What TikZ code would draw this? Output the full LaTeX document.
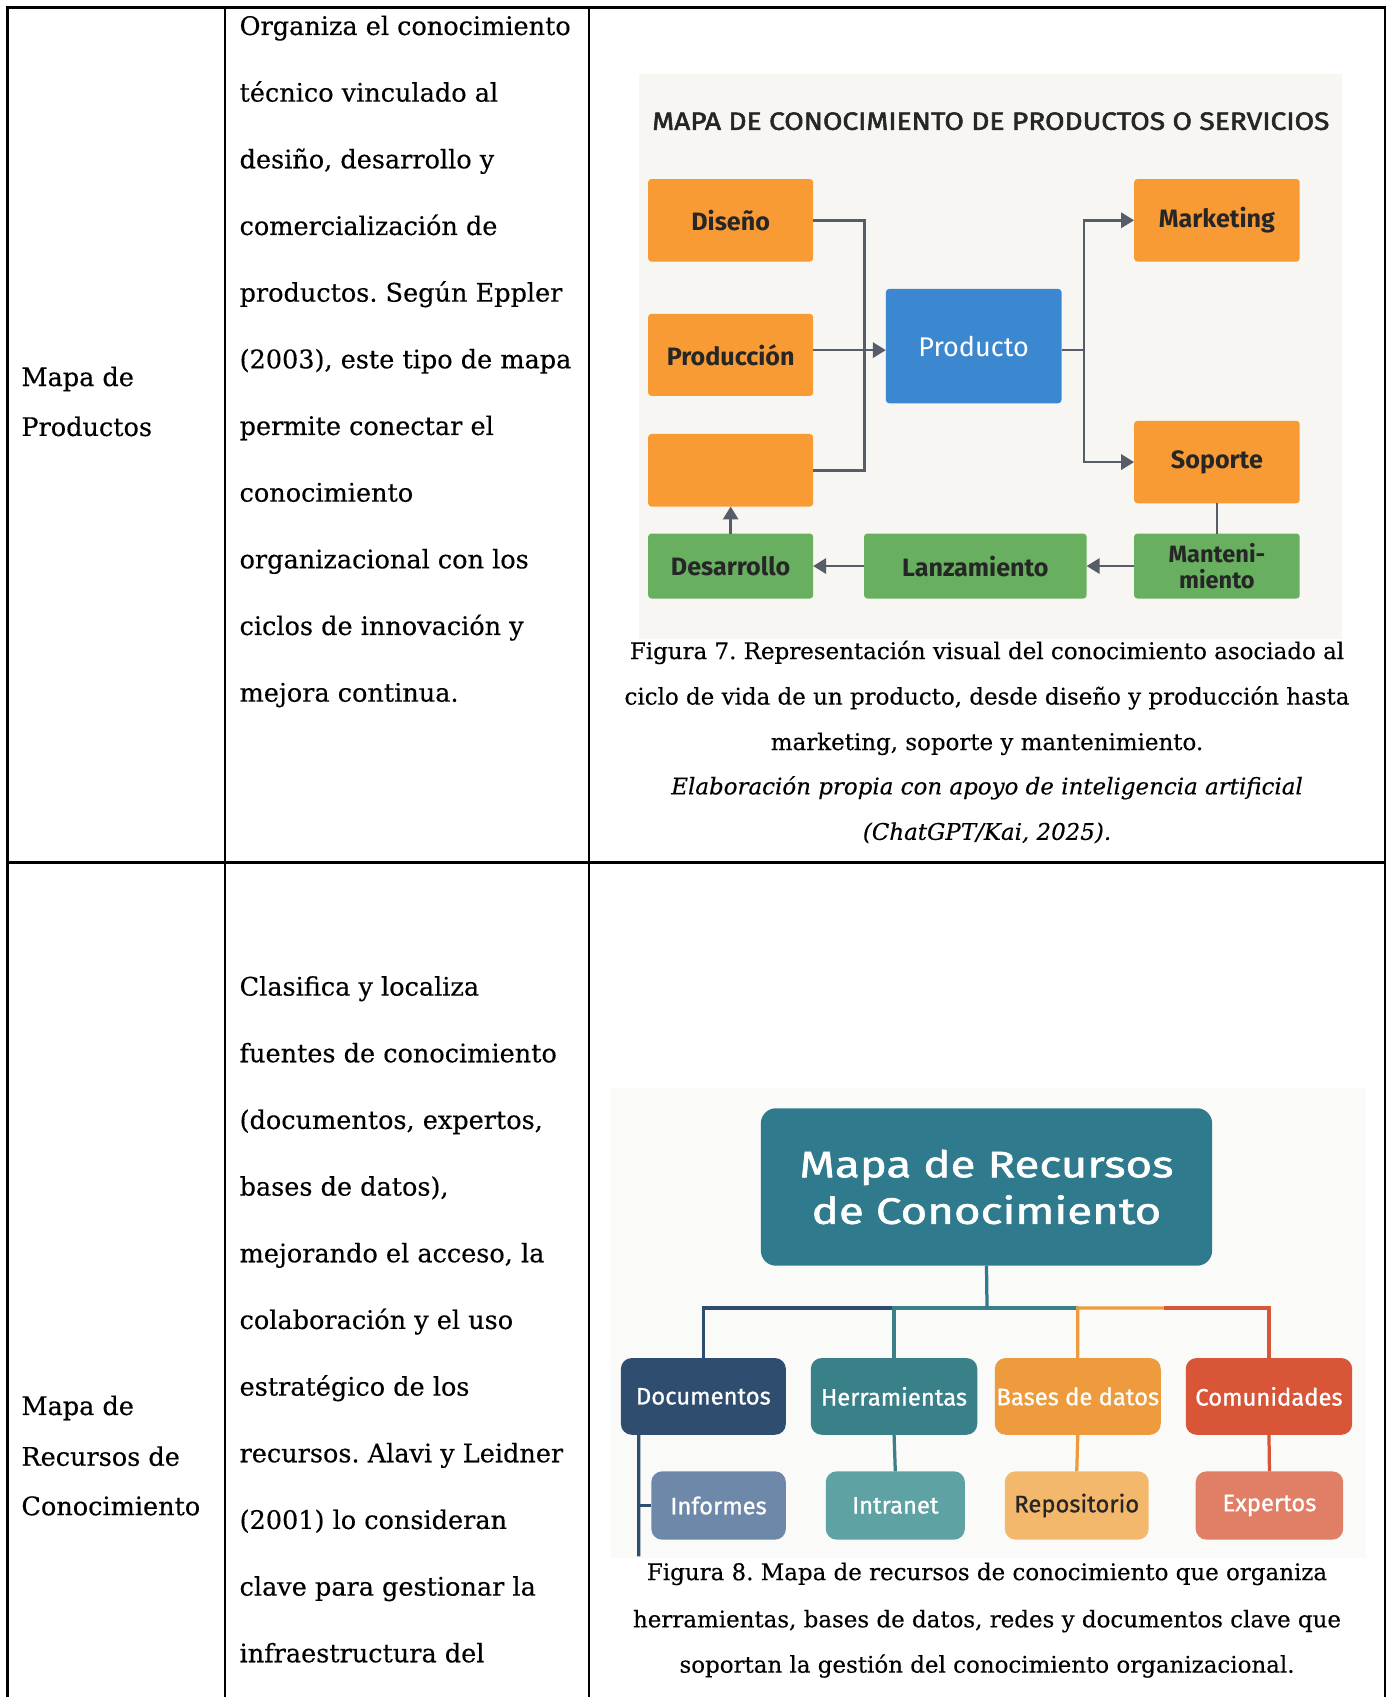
\documentclass[tikz,border=0pt]{standalone}
\usepackage{fontspec}
\setmainfont{DejaVu Serif}[FakeBold=0.35]
\newfontfamily\lblfont{Fira Sans}
\newfontfamily\midfont{Fira Sans}[FakeBold=0.9]
\newfontfamily\widefont{Fira Sans}[FakeStretch=1.24, FakeBold=1.6]
\newfontfamily\headfont{Fira Sans}[FakeStretch=1.12, FakeBold=2.2]
\usetikzlibrary{arrows.meta,calc}
\frenchspacing

\definecolor{panelA}{HTML}{F8F6F2}
\definecolor{panelB}{HTML}{FAFAF8}
\definecolor{orng}{HTML}{F89B35}
\definecolor{blu}{HTML}{3C88D0}
\definecolor{grn}{HTML}{68AF60}
\definecolor{ink}{HTML}{262626}
\definecolor{wire}{HTML}{575C69}
\definecolor{tealT}{HTML}{2F7A8C}
\definecolor{navyD}{HTML}{2E4D6F}
\definecolor{tealH}{HTML}{3A8088}
\definecolor{orB}{HTML}{EE9B3E}
\definecolor{redC}{HTML}{D85537}
\definecolor{slateI}{HTML}{6D88A8}
\definecolor{tealI}{HTML}{5EA2A3}
\definecolor{orR}{HTML}{F3B86C}
\definecolor{salE}{HTML}{E07F65}

% box from corner (x1,y1) to (x2,y2): name, x1, y1, x2, y2, style, text
\newcommand\mkbox[7]{%
  \pgfmathsetmacro\bxc{(#2+#4)/2}%
  \pgfmathsetmacro\byc{(#3+#5)/2}%
  \pgfmathsetmacro\bxw{(#4-#2)/2}%
  \pgfmathsetmacro\byh{(#5-#3)/2}%
  \node[#6, minimum width=\bxw pt, minimum height=\byh pt] (#1) at (\bxc,\byc) {#7};}

\tikzset{
  cell/.style={font=\fontsize{11.8}{14}\selectfont, anchor=base west, inner sep=0pt},
  capt/.style={font=\fontsize{10.6}{13}\selectfont, anchor=base, inner sep=0pt},
  pbox/.style={inner sep=0pt, outer sep=0pt, rounded corners=1.5pt,
    font=\lblfont\bfseries\fontsize{11.6}{13}\selectfont, text=ink},
  obox/.style={pbox, fill=orng},
  gbox/.style={pbox, fill=grn},
  conn/.style={draw=wire, line width=1.25pt},
  arr/.style={conn, -{Triangle[length=6pt,width=7pt]}},
  rbox/.style={inner sep=0pt, outer sep=0pt, rounded corners=5pt, text=white,
    font=\midfont\fontsize{11}{13}\selectfont},
  wire8/.style={line width=1.5pt},
  rule/.style={line width=1pt, draw=black},
}

\begin{document}
\begin{tikzpicture}[x=0.5pt,y=-0.5pt]
\useasboundingbox (0,0) rectangle (1285,1568);

% figure backgrounds
\fill[panelA] (590,68) rectangle (1240,590);
\fill[panelB] (565,1005) rectangle (1262,1440);

% table rules
\draw[rule] (7,1568) -- (7,7) -- (1280,7) -- (1280,1568);
\draw[rule] (208,7) -- (208,1568);
\draw[rule] (544,7) -- (544,1568);
\draw[rule] (7,797) -- (1280,797);

% first column
\node[cell] (m1a) at (19.4,356.7) {Mapa de};
\node[cell] (m1b) at (19.4,402.8) {Productos};
\node[cell] (m2a) at (19.4,1307.4) {Mapa de};
\node[cell] (m2b) at (19.4,1354.3) {Recursos de};
\node[cell] (m2c) at (19.4,1400) {Conocimiento};

% second column
\foreach \t [count=\i from 0] in {Organiza el conocimiento, técnico vinculado al,
  {desiño, desarrollo y}, comercialización de, productos. Según Eppler,
  {(2003), este tipo de mapa}, permite conectar el, conocimiento,
  organizacional con los, ciclos de innovación y, mejora continua.}
  {\node[cell] (pa\i) at (221,{32.3+61.6*\i}) {\t};}
\foreach \t [count=\i from 0] in {Clasifica y localiza, fuentes de conocimiento,
  {(documentos, expertos,}, {bases de datos),}, {mejorando el acceso, la},
  colaboración y el uso, estratégico de los, recursos. Alavi y Leidner,
  (2001) lo consideran, clave para gestionar la, infraestructura del}
  {\node[cell] (pb\i) at (221,{919.9+61.6*\i}) {\t};}

% ---------- product knowledge map ----------
\node[font=\headfont\fontsize{11.6}{13}\selectfont, text=ink, inner sep=0pt] (t7) at (915.5,112)
  {MAPA DE CONOCIMIENTO DE PRODUCTOS O SERVICIOS};

\mkbox{dis}{598.9}{165.4}{751.3}{241.7}{obox}{Diseño}
\mkbox{prd}{598.9}{290}{751.3}{365.8}{obox}{Producción}
\mkbox{blk}{598.9}{401}{751.3}{468}{obox}{}
\mkbox{pro}{818.5}{267}{980.8}{372.6}{pbox, fill=blu, text=white, font=\lblfont\fontsize{12.5}{14}\selectfont}{Producto}
\mkbox{mkt}{1047.9}{165.4}{1200.9}{241.7}{obox}{Marketing}
\mkbox{sop}{1047.9}{388.9}{1200.9}{465}{obox}{Soporte}
\mkbox{des}{598.9}{493}{751.3}{553}{gbox}{Desarrollo}
\mkbox{lan}{798.4}{493}{1004}{553}{gbox}{Lanzamiento}
\mkbox{man}{1047.9}{493}{1200.9}{553}{gbox, align=center, font=\lblfont\bfseries\fontsize{10.9}{11.9}\selectfont}{Manteni-\\miento}

\coordinate (jl) at (798.5,323.5);
\coordinate (pin) at (818.5,323.5);
\coordinate (jr) at (1001.7,323.5);
\draw[conn] (dis.east) -| (jl) |- (blk.east);
\draw[arr] (prd.east |- pin) -- (pro.west |- pin);
\draw[conn] (pro.east |- jr) -- (jr);
\draw[arr] (jr) |- (mkt.west);
\draw[arr] (jr) |- (sop.west);
\draw[conn] (sop.south) -- (man.north);
\draw[arr] (man.west) -- (lan.east);
\draw[arr] (lan.west) -- (des.east);
\draw[arr] (des.north) -- (blk.south);

% captions, figure 7
\node[capt] (c7a) at (912,609) {Figura 7. Representación visual del conocimiento asociado al};
\node[capt] (c7b) at (912,651) {ciclo de vida de un producto, desde diseño y producción hasta};
\node[capt] (c7c) at (912,693) {marketing, soporte y mantenimiento.};
\node[capt, font=\fontsize{10.6}{13}\selectfont\itshape] (c7d) at (912,734) {Elaboración propia con apoyo de inteligencia artificial};
\node[capt, font=\fontsize{10.6}{13}\selectfont\itshape] (c7e) at (912,776) {(ChatGPT/Kai, 2025).};

% ---------- knowledge resources map ----------
\mkbox{rt}{703}{1024}{1120}{1169.5}{rbox, fill=tealT, rounded corners=7pt, align=center,
  font=\widefont\fontsize{17}{21.5}\selectfont}{Mapa de Recursos\\de Conocimiento}

\mkbox{doc}{573.7}{1254.8}{726.1}{1325.7}{rbox, fill=navyD}{Documentos}
\mkbox{her}{749.2}{1254.8}{903}{1325.7}{rbox, fill=tealH}{Herramientas}
\mkbox{bas}{919.2}{1254.8}{1072.5}{1325.7}{rbox, fill=orB}{Bases de datos}
\mkbox{com}{1095.6}{1254.8}{1249.4}{1325.7}{rbox, fill=redC}{Comunidades}

\mkbox{inf}{601.8}{1359.5}{726.1}{1422.6}{rbox, fill=slateI}{Informes}
\mkbox{itr}{763}{1359.5}{891.5}{1422.6}{rbox, fill=tealI}{Intranet}
\mkbox{rep}{928.4}{1359.5}{1061.4}{1422.6}{rbox, fill=orR, text=ink}{Repositorio}
\mkbox{exp}{1104.8}{1359.5}{1241.1}{1422.6}{rbox, fill=salE}{Expertos}

\coordinate (bar) at (912,1208.6);
\coordinate (mixb) at ($(bas.north |- bar)!0.45!(com.north |- bar)$);
\draw[wire8, draw=navyD] (doc.north) |- (her.north |- bar);
\draw[wire8, draw=tealH] (bas.north |- bar) -| (her.north);
\draw[wire8, draw=orB] (bas.north) -- (bas.north |- bar) -- (mixb);
\draw[wire8, draw=redC] (mixb) -| (com.north);
\draw[wire8, draw=tealT] (rt.south) -- (bar);
\draw[wire8, draw=tealH] (her.south) -- (itr.north);
\draw[wire8, draw=orB] (bas.south) -- (rep.north);
\draw[wire8, draw=redC] (com.south) -- (exp.north);
\coordinate (tk) at ($(doc.south west)+(16.6,0)$);
\coordinate (tkend) at (590.3,1438);
\draw[wire8, draw=navyD] (tk) -- (tkend);
\draw[wire8, draw=navyD] (tk |- inf.west) -- (inf.west);

% captions, figure 8
\node[capt] (c8a) at (912,1460) {Figura 8. Mapa de recursos de conocimiento que organiza};
\node[capt] (c8b) at (912,1503.6) {herramientas, bases de datos, redes y documentos clave que};
\node[capt] (c8c) at (912,1545.5) {soportan la gestión del conocimiento organizacional.};
\end{tikzpicture}
\end{document}
